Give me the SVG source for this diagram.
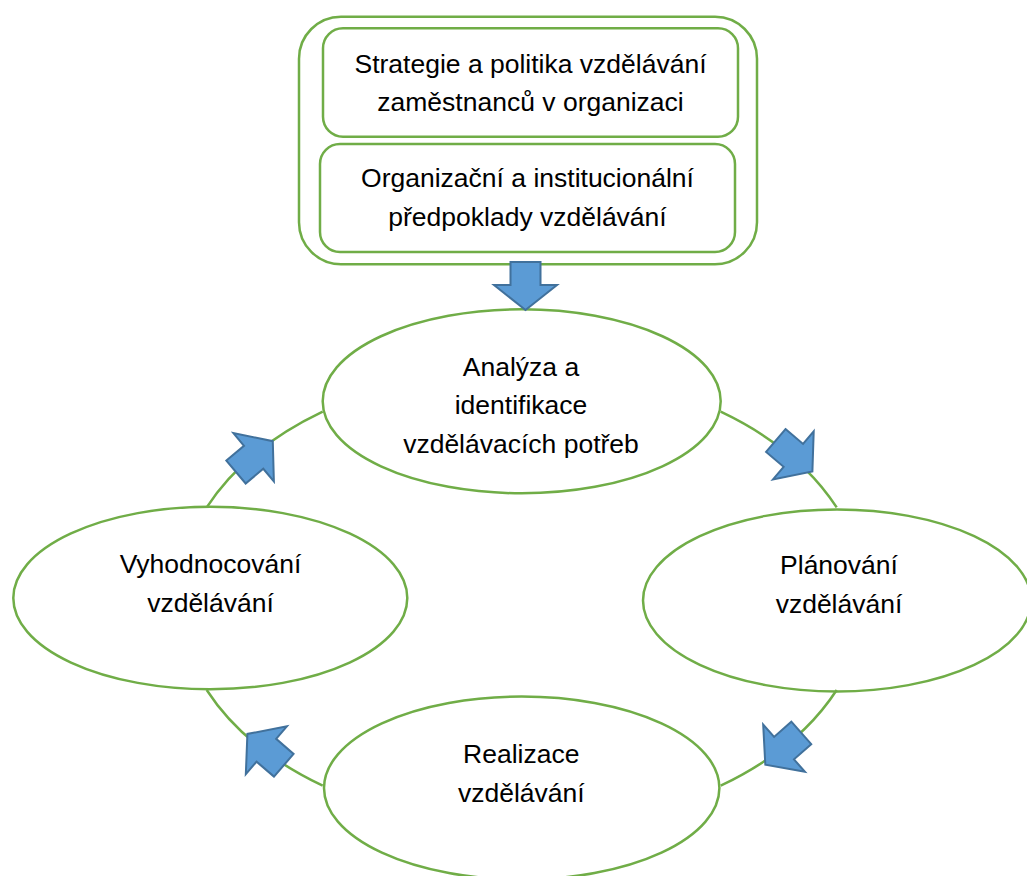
<svg xmlns="http://www.w3.org/2000/svg" xmlns:xlink="http://www.w3.org/1999/xlink" width="1027" height="876" viewBox="0 0 1027 876">
<style>
.box{fill:#fff;stroke:#70AD47;stroke-width:2.5}
.ell{fill:#fff;stroke:#70AD47;stroke-width:2.5}
.ring{fill:none;stroke:#70AD47;stroke-width:2.5}
.arr{fill:#5B9BD5;stroke:#41719C;stroke-width:2;stroke-linejoin:miter}
.t{font-family:"Liberation Sans",Arial,sans-serif;font-size:26.5px;fill:#000;text-anchor:middle}
</style>
<defs>
<path id="arrow" d="M -24,-15 L -1,-15 L -1,-31.5 L 24,0 L -1,31.5 L -1,15 L -24,15 Z"/>
</defs>
<rect width="1027" height="876" fill="#fff"/>
<g id="context">
<rect class="box" x="299" y="16.7" width="458" height="247.5" rx="42" ry="42"/>
</g>
<g id="strategy">
<rect class="box" x="323" y="28.3" width="415" height="108.5" rx="20" ry="20"/>
<text class="t" x="530.5" y="72.7">Strategie a politika vzdělávání</text>
<text class="t" x="530.5" y="110.7">zaměstnanců v organizaci</text>
</g>
<g id="preconditions">
<rect class="box" x="320" y="144" width="415" height="108" rx="20" ry="20"/>
<text class="t" x="527.5" y="187.3">Organizační a institucionální</text>
<text class="t" x="527.5" y="226">předpoklady vzdělávání</text>
</g>
<g id="analysis">
<ellipse class="ell" cx="521.7" cy="401.3" rx="199" ry="92"/>
<text class="t" x="521" y="376">Analýza a</text>
<text class="t" x="521" y="414">identifikace</text>
<text class="t" x="521" y="452.7">vzdělávacích potřeb</text>
</g>
<g id="planning">
<ellipse class="ell" cx="837" cy="600.5" rx="194" ry="91"/>
<text class="t" x="839" y="574">Plánování</text>
<text class="t" x="839" y="613">vzdělávání</text>
</g>
<g id="realization">
<ellipse class="ell" cx="521.7" cy="788" rx="197.7" ry="91.5"/>
<text class="t" x="521.3" y="762.7">Realizace</text>
<text class="t" x="521.3" y="801.7">vzdělávání</text>
</g>
<g id="evaluation">
<ellipse class="ell" cx="210.3" cy="598" rx="197" ry="91.3"/>
<text class="t" x="210.5" y="572.7">Vyhodnocování</text>
<text class="t" x="210.5" y="611.7">vzdělávání</text>
</g>
<g id="connectors">
<path class="ring" d="M 322.7 411.7 A 343.3 229.5 0 0 0 206.7 507.4"/>
<path class="ring" d="M 720.7 411.7 A 343.3 229.5 0 0 1 836.7 507.4"/>
<path class="ring" d="M 836.7 690 A 343.3 229.5 0 0 1 720.7 785.7"/>
<path class="ring" d="M 322.7 785.7 A 343.3 229.5 0 0 1 206.7 690"/>
<use xlink:href="#arrow" href="#arrow" class="arr" transform="translate(525.5,286) rotate(90)"/>
<use xlink:href="#arrow" href="#arrow" class="arr" transform="translate(254.4,456.6) rotate(-40)"/>
<use xlink:href="#arrow" href="#arrow" class="arr" transform="translate(794.1,456) rotate(40.3)"/>
<use xlink:href="#arrow" href="#arrow" class="arr" transform="translate(783.3,748.8) rotate(138.5)"/>
<use xlink:href="#arrow" href="#arrow" class="arr" transform="translate(265.6,749.6) rotate(-139.3)"/>
</g>
</svg>
